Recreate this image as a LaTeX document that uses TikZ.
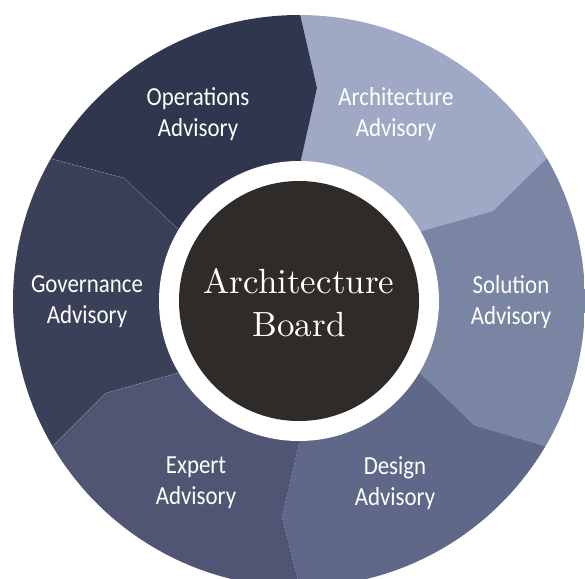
\documentclass[tikz,border=0pt]{standalone}
\usepackage{fontspec}
\newfontfamily\labelfont[FakeStretch=0.88]{Carlito}
\newfontfamily\boardfont{lmroman10-regular.otf}
\definecolor{opscol}{HTML}{30364E}
\definecolor{archcol}{HTML}{9FA9C6}
\definecolor{solcol}{HTML}{7A84A3}
\definecolor{descol}{HTML}{5F6888}
\definecolor{expcol}{HTML}{505574}
\definecolor{govcol}{HTML}{3B4059}
\definecolor{boardcol}{HTML}{2F2B28}

\begin{document}
\begin{tikzpicture}[x=1pt,y=-1pt,
    advisory/.style={text=white, align=center, inner sep=0pt, font=\labelfont\fontsize{26}{31}\selectfont},
    board/.style={text=white, align=center, inner sep=0pt, font=\boardfont\fontsize{35}{43}\selectfont},
    seam/.style={draw=white, draw opacity=0.25, line width=0.4pt}
    ]
    \useasboundingbox (0,0) rectangle (585,578);
    \coordinate (c) at (299,301);

    % boundaries between the segments, ring -> outside
    \coordinate (b1a) at (301,160); \coordinate (b1b) at (317,88);  \coordinate (b1c) at (300,14);  \coordinate (b1d) at (292,-20);
    \coordinate (b2a) at (422,231); \coordinate (b2b) at (493,211); \coordinate (b2c) at (545,160); \coordinate (b2d) at (600,106);
    \coordinate (b3a) at (422,375); \coordinate (b3b) at (474,425); \coordinate (b3c) at (545,446); \coordinate (b3d) at (620,468);
    \coordinate (b4a) at (299,444); \coordinate (b4b) at (282,517); \coordinate (b4c) at (299,585); \coordinate (b4d) at (306,620);
    \coordinate (b5a) at (178,373); \coordinate (b5b) at (106,393); \coordinate (b5c) at (54,445);  \coordinate (b5d) at (-20,519);
    \coordinate (b6a) at (178,229); \coordinate (b6b) at (124,178); \coordinate (b6c) at (52,159);  \coordinate (b6d) at (-20,140);

    \begin{scope}
        \clip (c) circle (286pt);
        \fill[archcol] (c) -- (b1a) -- (b1b) -- (b1c) -- (b1d) -- (640,-20) -- (640,106) -- (b2d) -- (b2c) -- (b2b) -- (b2a) -- cycle;
        \fill[solcol] (c) -- (b2a) -- (b2b) -- (b2c) -- (b2d) -- (640,106) -- (640,468) -- (b3d) -- (b3c) -- (b3b) -- (b3a) -- cycle;
        \fill[descol] (c) -- (b3a) -- (b3b) -- (b3c) -- (b3d) -- (640,468) -- (640,620) -- (b4d) -- (b4c) -- (b4b) -- (b4a) -- cycle;
        \fill[expcol] (c) -- (b4a) -- (b4b) -- (b4c) -- (b4d) -- (-20,620) -- (b5d) -- (b5c) -- (b5b) -- (b5a) -- cycle;
        \fill[govcol] (c) -- (b5a) -- (b5b) -- (b5c) -- (b5d) -- (b6d) -- (b6c) -- (b6b) -- (b6a) -- cycle;
        \fill[opscol] (c) -- (b6a) -- (b6b) -- (b6c) -- (b6d) -- (-20,-20) -- (b1d) -- (b1c) -- (b1b) -- (b1a) -- cycle;
        % faint seams on the left
        \draw[seam] (b6a) -- (b6b) -- (b6c) -- (b6d);
        \draw[seam] (b5a) -- (b5b) -- (b5c) -- (b5d);
    \end{scope}

    % white ring and the board in the middle
    \fill[white] (c) circle (140pt);
    \fill[boardcol] (c) circle (120pt);
    \node[board] (board) at (299,303) {Architecture\\Board};

    \foreach \n/\x/\y/\t in {ops/198/114/Operations, arch/396/114/Architecture, gov/87/302/Governance,
        sol/511/302/Solution, exp/196/483/Expert, des/395/483/Design}
        \node[advisory] (\n) at (\x,\y) {\t\\Advisory};
\end{tikzpicture}
\end{document}
